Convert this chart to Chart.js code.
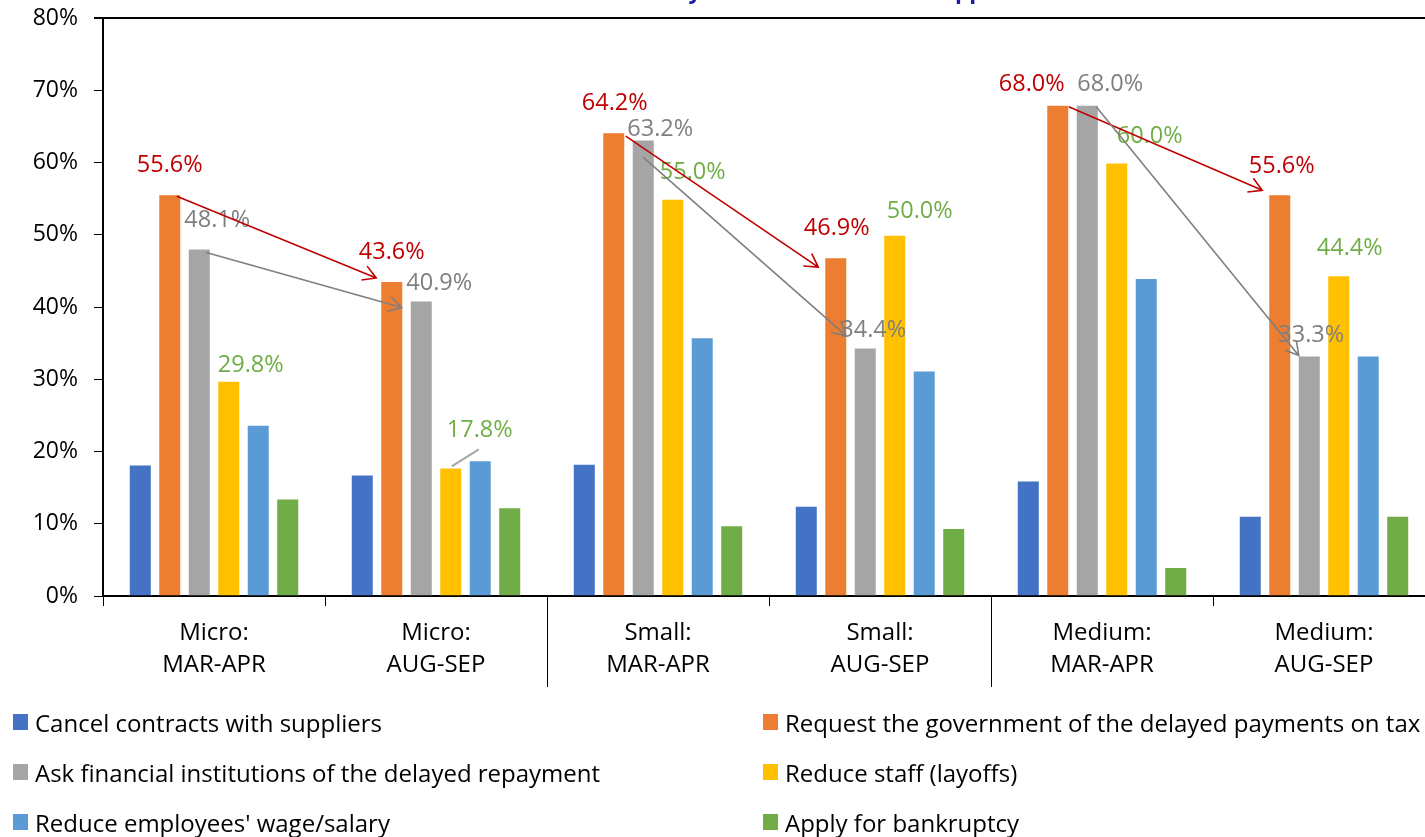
<!DOCTYPE html>
<html>
<head>
<meta charset="utf-8">
<title>Measures taken by SMEs</title>
<script src="https://cdn.jsdelivr.net/npm/chart.js@4.4.0/dist/chart.umd.min.js"></script>
<style>
  html, body { margin: 0; padding: 0; background: #fff; width: 1425px; height: 837px; overflow: hidden; }
  #wrap { position: relative; width: 1425px; height: 837px; overflow: hidden; }
  #chart { position: absolute; left: 0; top: 0; }
  #legend { position: absolute; left: 0; top: 0; width: 1425px; height: 837px; pointer-events: none;
            font-family: "Open Sans", Lato, sans-serif; font-size: 24px; color: #000; }
  .item { position: absolute; display: flex; align-items: center; white-space: nowrap; height: 30px; }
  .sw { width: 15px; height: 16px; margin-right: 7px; flex: none; }
</style>
</head>
<body>
<div id="wrap">
  <canvas id="chart" width="1445" height="837"></canvas>
  <div id="legend"></div>
</div>
<script>
// ---- data ----
const categories = [
  ['Micro:', 'MAR-APR'], ['Micro:', 'AUG-SEP'],
  ['Small:', 'MAR-APR'], ['Small:', 'AUG-SEP'],
  ['Medium:', 'MAR-APR'], ['Medium:', 'AUG-SEP']
];
const seriesNames = [
  'Cancel contracts with suppliers',
  'Request the government of the delayed payments on tax',
  'Ask financial institutions of the delayed repayment',
  'Reduce staff (layoffs)',
  "Reduce employees' wage/salary",
  'Apply for bankruptcy'
];
const cancelContracts = [18.2, 16.8, 18.3, 12.5, 16.0, 11.1];
const delayedTax      = [55.6, 43.6, 64.2, 46.9, 68.0, 55.6];
const delayedRepay    = [48.1, 40.9, 63.2, 34.4, 68.0, 33.3];
const reduceStaff     = [29.8, 17.8, 55.0, 50.0, 60.0, 44.4];
const reduceWages     = [23.7, 18.8, 35.8, 31.2, 44.0, 33.3];
const bankruptcy      = [13.5, 12.3, 9.8, 9.4, 4.0, 11.1];
const yTickValues = [0, 10, 20, 30, 40, 50, 60, 70, 80];
const titleText = 'Measures taken by SMEs without state support';

// ---- styling ----
const FONT = '"Open Sans", Lato, sans-serif';
const seriesColors = ['#4472C4', '#ED7D31', '#A5A5A5', '#FFC000', '#5B9BD5', '#70AD47'];
const seriesValues = [cancelContracts, delayedTax, delayedRepay, reduceStaff, reduceWages, bankruptcy];

// value labels: which series are labelled, their colour, and per-bar nudges (dx, dy from bar top centre)
const labelStyles = [
  { ds: 1, color: '#C00000', nudge: [[0,-29],[0,-29],[1,-29],[1,-29],[-26,-20],[2,-28]] },
  { ds: 2, color: '#7F7F7F', nudge: [[18,-28],[18,-17],[17,-10],[8,-17],[23,-20],[2,-20]] },
  { ds: 3, color: '#70AD47', nudge: [[22,-15],[29,-37],[20,-26],[25,-23],[33,-26],[11,-27]] }
];
// leader line for the one label moved away from its bar (series 3, bar 1)
const leaders = [{ ds: 3, idx: 1, from: [28, -18], to: [1, -1], color: '#A6A6A6' }];

// trend arrows from the MAR-APR bar to the AUG-SEP bar of the same size class
const arrowStyles = [
  { ds: 1, from: 0, to: 1, color: '#C00000', s: [7, 2],  e: [-4, -3] },
  { ds: 2, from: 0, to: 1, color: '#7F7F7F', s: [7, 4],  e: [-8, 7] },
  { ds: 1, from: 2, to: 3, color: '#C00000', s: [12, 4], e: [-6, 10] },
  { ds: 2, from: 2, to: 3, color: '#7F7F7F', s: [0, 18], e: [-8, -12] },
  { ds: 1, from: 4, to: 5, color: '#C00000', s: [11, 2], e: [-6, -4] },
  { ds: 2, from: 4, to: 5, color: '#7F7F7F', s: [9, 2],  e: [1, 0] }
];

const fmt = v => v.toFixed(1) + '%';

// draws the value labels, leaders and arrows on top of the bars
const annotations = {
  id: 'annotations',
  afterDatasetsDraw(chart) {
    const ctx = chart.ctx;
    ctx.save();
    ctx.font = '23.5px ' + FONT;
    ctx.textAlign = 'center';
    ctx.textBaseline = 'middle';
    labelStyles.forEach(ls => {
      const meta = chart.getDatasetMeta(ls.ds);
      meta.data.forEach((bar, j) => {
        const v = chart.data.datasets[ls.ds].data[j];
        ctx.fillStyle = ls.color;
        ctx.fillText(fmt(v), bar.x + ls.nudge[j][0], bar.y + ls.nudge[j][1]);
      });
    });
    leaders.forEach(l => {
      const bar = chart.getDatasetMeta(l.ds).data[l.idx];
      ctx.strokeStyle = l.color;
      ctx.lineWidth = 2;
      ctx.beginPath();
      ctx.moveTo(bar.x + l.from[0], bar.y + l.from[1]);
      ctx.lineTo(bar.x + l.to[0], bar.y + l.to[1]);
      ctx.stroke();
    });
    arrowStyles.forEach(a => {
      const meta = chart.getDatasetMeta(a.ds);
      const b0 = meta.data[a.from], b1 = meta.data[a.to];
      const x0 = b0.x + a.s[0], y0 = b0.y + a.s[1];
      const x1 = b1.x - b1.width / 2 + a.e[0], y1 = b1.y + a.e[1];
      const ang = Math.atan2(y1 - y0, x1 - x0);
      const head = 15, spread = Math.PI / 6;
      ctx.strokeStyle = a.color;
      ctx.lineWidth = 1.6;
      ctx.beginPath();
      ctx.moveTo(x0, y0);
      ctx.lineTo(x1, y1);
      ctx.moveTo(x1 - head * Math.cos(ang - spread), y1 - head * Math.sin(ang - spread));
      ctx.lineTo(x1, y1);
      ctx.lineTo(x1 - head * Math.cos(ang + spread), y1 - head * Math.sin(ang + spread));
      ctx.stroke();
    });
    ctx.restore();
  },
  afterDraw(chart) {
    const ctx = chart.ctx;
    const xs = chart.scales.x;
    ctx.save();
    // long dividers between size classes on the category axis
    ctx.strokeStyle = '#000';
    ctx.lineWidth = 1;
    for (let i = 1; i < categories.length; i++) {
      if (categories[i][0] !== categories[i - 1][0]) {
        const x = Math.round((xs.getPixelForValue(i - 1) + xs.getPixelForValue(i)) / 2) + 0.5;
        ctx.beginPath();
        ctx.moveTo(x, chart.chartArea.bottom);
        ctx.lineTo(x, 687);
        ctx.stroke();
      }
    }
    // title (sits above the top edge of the page)
    ctx.font = 'bold 22.5px ' + FONT;
    ctx.fillStyle = '#1C1CA8';
    ctx.textAlign = 'left';
    ctx.textBaseline = 'alphabetic';
    const pre = ctx.measureText('Measures taken b').width;
    const yw = ctx.measureText('y').width;
    ctx.fillText(titleText, 695 - pre - yw / 2, -2.5);
    ctx.restore();
  }
};

const chart = new Chart(document.getElementById('chart'), {
  type: 'bar',
  data: {
    labels: categories,
    datasets: seriesValues.map((vals, i) => ({
      label: seriesNames[i],
      data: vals,
      backgroundColor: seriesColors[i],
      borderColor: 'rgba(255,255,255,0.55)',
      borderWidth: 1,
      categoryPercentage: 0.797,
      barPercentage: 0.78
    }))
  },
  options: {
    responsive: false,
    animation: false,
    events: [],
    layout: { padding: { top: 18, right: 10, left: 0, bottom: 0 } },
    plugins: { legend: { display: false }, tooltip: { enabled: false }, title: { display: false } },
    scales: {
      x: {
        grid: { offset: true, drawOnChartArea: false, color: '#000', tickColor: '#000', tickLength: 10, lineWidth: 1 },
        border: { color: '#000', width: 2 },
        ticks: { color: '#000', font: { family: FONT, size: 24, lineHeight: '32px' }, padding: 11,
                 maxRotation: 0, autoSkip: false },
        afterFit(s) { s.height = 241; }
      },
      y: {
        min: 0, max: 80,
        afterBuildTicks(s) { s.ticks = yTickValues.map(v => ({ value: v })); },
        ticks: { color: '#000', font: { family: FONT, size: 23, lineHeight: '4px' }, padding: 16, callback: v => v + '%' },
        grid: {
          color: c => (c.tick && c.tick.value === 80) ? '#000' : 'rgba(0,0,0,0)',
          lineWidth: c => (c.tick && c.tick.value === 80) ? 2 : 1,
          tickColor: '#000', tickLength: 9
        },
        border: { color: '#000', width: 2 },
        afterFit(s) { s.width = 103; }
      }
    }
  },
  plugins: [annotations]
});

// two-column legend under the axis
const legend = document.getElementById('legend');
seriesNames.forEach((name, i) => {
  const el = document.createElement('div');
  el.className = 'item';
  el.style.left = (i % 2 === 0 ? 13 : 763) + 'px';
  el.style.top = (707 + Math.floor(i / 2) * 50) + 'px';
  const sw = document.createElement('span');
  sw.className = 'sw';
  sw.style.background = seriesColors[i];
  const tx = document.createElement('span');
  tx.textContent = name;
  el.appendChild(sw);
  el.appendChild(tx);
  legend.appendChild(el);
});
</script>
</body>
</html>
